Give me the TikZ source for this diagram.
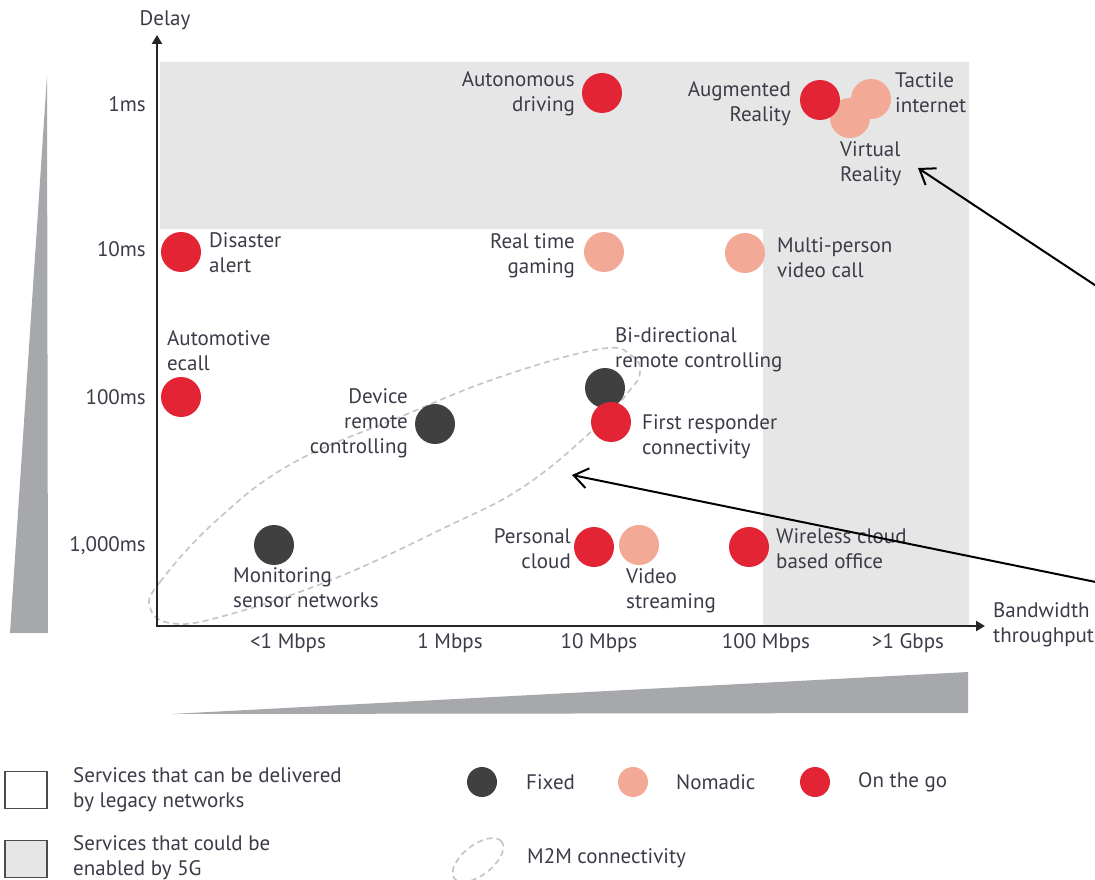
\documentclass[tikz,border=0pt]{standalone}
\usepackage{fontspec}
\setmainfont{PT Sans}
\usetikzlibrary{arrows.meta}
\definecolor{txt}{HTML}{3C3C48}
\definecolor{bandgray}{HTML}{E6E6E6}
\definecolor{wedgegray}{HTML}{A7A8AB}
\definecolor{gored}{HTML}{E32434}
\definecolor{nomad}{HTML}{F2A995}
\definecolor{fixedc}{HTML}{404040}
\definecolor{m2mc}{HTML}{C4C4C4}
\begin{document}
\begin{tikzpicture}[x=1pt,y=-1pt,
  every node/.style={text=txt, font=\fontsize{21}{25}\selectfont, inner sep=0pt},
  dot/.style={circle, minimum size=40pt, inner sep=0pt},
  fixeddot/.style={dot, fill=fixedc},
  nomaddot/.style={dot, fill=nomad},
  godot/.style={dot, fill=gored},
  lgdot/.style={circle, minimum size=30pt, inner sep=0pt},
  lbl/.style={align=left, anchor=west},
  lblr/.style={align=right, anchor=east},
  tick/.style={anchor=center},
  ytick/.style={anchor=east},
  axisline/.style={line width=2.4pt, draw=black!85, line join=miter,
     {Triangle[length=9pt,width=10pt]}-{Triangle[length=9pt,width=10pt]}},
  pointer/.style={line width=2pt, draw=black, {Straight Barb[length=14pt,width=20pt]}-},
  m2m/.style={draw=m2mc, line width=1.6pt, dash pattern=on 6pt off 4pt},
  legbox/.style={draw=black!70, line width=1.5pt, minimum width=42pt, minimum height=37pt}
]
\useasboundingbox[fill=white] (0,0) rectangle (1095,880);

% 5G region
\fill[bandgray] (160,62) -- (969,62) -- (969,625) -- (763,625) -- (763,229) -- (160,229) -- cycle;

% wedges
\fill[wedgegray] (47,76) -- (48,633) -- (10,633) -- cycle;
\fill[wedgegray] (171,714) -- (968,672) -- (968,713) -- cycle;

% M2M blob
\draw[m2m] plot[smooth cycle, tension=0.7] coordinates {
  (150,607) (160,582) (217,520) (293,463) (400,417) (500,377) (600,349)
  (632,356) (640,372) (630,390) (593,430) (523,487) (446,527) (331,580)
  (220,617) (170,623)};

% axes
\coordinate (O) at (157,626);
\coordinate (ytip) at (157,35);
\coordinate (xtip) at (985,626);
\draw[axisline] (ytip) -- (O) -- (xtip);
\node (delay) at (165,20) {Delay};
\node[lbl] (bw) at (993,625) {Bandwidth\\throughput};

% y ticks
\node[ytick] (y1) at (146,104) {1ms};
\node[ytick] (y10) at (146,249) {10ms};
\node[ytick] (y100) at (146,397) {100ms};
\node[ytick] (y1000) at (146,546) {1,000ms};

% x ticks
\node[tick] (x1) at (288,643) {<1 Mbps};
\node[tick] (x2) at (450,643) {1 Mbps};
\node[tick] (x3) at (599,643) {10 Mbps};
\node[tick] (x4) at (766,643) {100 Mbps};
\node[tick] (x5) at (908,643) {>1 Gbps};

% services
\node[godot] (auto) at (602,93) {};
\node[lblr] (autoL) at (575,94) {Autonomous\\driving};

\node[nomaddot] (vr) at (850,118) {};
\node[nomaddot] (tact) at (871,99) {};
\node[godot] (ar) at (820,100) {};
\node[lblr] (arL) at (791,104) {Augmented\\Reality};
\node[lbl] (tactL) at (895,93) {Tactile\\internet};
\node[lbl] (vrL) at (840,164) {Virtual\\Reality};

\node[godot] (dis) at (181,252) {};
\node[lbl] (disL) at (209,253) {Disaster\\alert};

\node[nomaddot] (game) at (604,252) {};
\node[lblr] (gameL) at (575,256) {Real time\\gaming};

\node[nomaddot] (multi) at (745,253) {};
\node[lbl] (multiL) at (777,258) {Multi-person\\video call};

\node[godot] (ecall) at (181,397) {};
\node[lbl] (ecallL) at (167,351) {Automotive\\ecall};

\node[fixeddot] (dev) at (435,424) {};
\node[lblr] (devL) at (408,423) {Device\\remote\\controlling};

\node[fixeddot] (bidir) at (605,388) {};
\node[lbl] (bidirL) at (615,350) {Bi-directional\\remote controlling};

\node[godot] (first) at (611,422) {};
\node[lbl] (firstL) at (642,437) {First responder\\connectivity};

\node[fixeddot] (mon) at (274,545) {};
\node[lbl] (monL) at (233,588) {Monitoring\\sensor networks};

\node[godot] (pers) at (594,547) {};
\node[lblr] (persL) at (571,549) {Personal\\cloud};

\node[nomaddot] (video) at (639,545) {};
\node[lbl] (videoL) at (626,591) {Video\\streaming};

\node[godot] (wire) at (749,547) {};
\node[lbl] (wireL) at (776,549) {Wireless cloud\\based office};

% pointers
\coordinate (vrtip) at (918,168);
\coordinate (vrtail) at (1125,305);
\coordinate (m2mtip) at (572,475);
\coordinate (m2mtail) at (1125,588);
\draw[pointer] (vrtip) -- (vrtail);
\draw[pointer] (m2mtip) -- (m2mtail);

% legend
\node[legbox] (box1) at (26,790) {};
\node[lbl] (box1L) at (73,790) {Services that can be delivered\\by legacy networks};
\node[legbox, fill=bandgray] (box2) at (26,859) {};
\node[lbl] (box2L) at (73,858) {Services that could be\\enabled by 5G};

\node[lgdot, fill=fixedc] (lgfix) at (482,782) {};
\node[lbl] (lgfixL) at (526,782) {Fixed};
\node[lgdot, fill=nomad] (lgnom) at (633,782) {};
\node[lbl] (lgnomL) at (676,782) {Nomadic};
\node[lgdot, fill=gored] (lggo) at (815,782) {};
\node[lbl] (lggoL) at (858,782) {On the go};

\draw[m2m, rotate around={38:(478,860)}] (478,860) ellipse [x radius=30pt, y radius=15pt];
\node[lbl] (lgm2mL) at (527,858) {M2M connectivity};
\end{tikzpicture}
\end{document}
